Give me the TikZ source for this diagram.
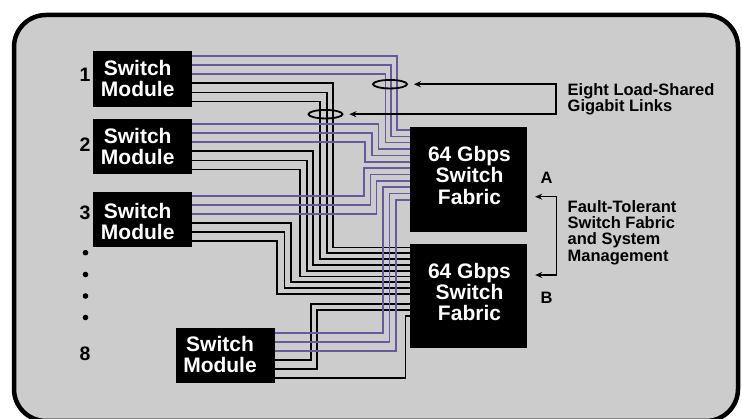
\documentclass[tikz,border=0pt]{standalone}
\usepackage{fontspec}
\setmainfont{Liberation Sans}
\usetikzlibrary{arrows.meta,shapes.geometric}
\definecolor{bg}{RGB}{204,204,204}
\definecolor{lav}{RGB}{104,88,156}
\begin{document}
\begin{tikzpicture}[x=1pt,y=-1pt,
  box/.style={fill=black, inner sep=0pt, draw=none},
  wtext/.style={text=white, font=\fontsize{21}{21}\selectfont\bfseries, align=center, inner sep=0pt},
  ftext/.style={text=white, font=\fontsize{21}{21.3}\selectfont\bfseries, align=center, inner sep=0pt},
  bl/.style={draw=black, line width=1.7pt},
  pl/.style={draw=lav, line width=1.6pt},
  lab/.style={font=\fontsize{16.5}{16.1}\selectfont\bfseries, align=left, inner sep=0pt, anchor=north west},
  num/.style={font=\fontsize{19.5}{19.5}\selectfont\bfseries, inner sep=0pt},
  small/.style={font=\fontsize{16.5}{16.5}\selectfont\bfseries, inner sep=0pt},
  arr/.style={line width=1.5pt, {Stealth[length=7pt,width=6pt]}-{Stealth[length=7pt,width=6pt]}},
  loop/.style={ellipse, draw=black, line width=1.8pt, minimum width=34pt, minimum height=8.5pt, inner sep=0pt},
  dot/.style={circle, fill=black, inner sep=0pt, minimum size=5.6pt}
]
\fill[white] (0,0) rectangle (742,419);
\useasboundingbox (0,0) rectangle (742,419);
\draw[line width=4.5pt, fill=bg, rounded corners=32pt] (14,15) rectangle (738,421);

% boxes
\node[box, minimum width=99pt, minimum height=56pt] (m1) at (142.5,79) {};
\node[box, minimum width=99pt, minimum height=55pt] (m2) at (142.5,146.5) {};
\node[box, minimum width=99pt, minimum height=55pt] (m3) at (142.5,219.8) {};
\node[box, minimum width=98.5pt, minimum height=55pt] (m4) at (225.3,355.5) {};
\node[box, minimum width=117pt, minimum height=105pt] (fa) at (468.5,179.5) {};
\node[box, minimum width=117pt, minimum height=104pt] (fb) at (468.5,296) {};

\node[wtext] (m1t) at (137.7,78.3) {Switch\\Module};
\node[wtext] (m2t) at (137.7,146.5) {Switch\\Module};
\node[wtext] (m3t) at (137.7,221.5) {Switch\\Module};
\node[wtext] (m4t) at (220,354.2) {Switch\\Module};
\node[ftext] (fat) at (469.5,175.4) {64 Gbps\\Switch\\Fabric};
\node[ftext] (fbt) at (469.5,292) {64 Gbps\\Switch\\Fabric};

% black links to fabric B
\foreach \s/\ys/\xv/\ye in {
  m1/83.3/333.3/247.5, m1/92.4/326.7/253.3, m1/101.5/320/259.1,
  m2/151.3/313.3/264.9, m2/160.4/306.7/270.7, m2/169.5/300/276.5,
  m3/222.8/291.3/282.3, m3/231.8/284.5/288.1, m3/240.8/277.3/293.9,
  m4/359.9/311/304.3, m4/369/316.7/310, m4/378.1/405.5/316}
  \draw[bl] (\s.east |- 0,\ys) -| (\xv,\ye) -- (fb.west |- 0,\ye);

% purple links to fabric A
\foreach \s/\ys/\xv/\ye in {
  m1/56/396.7/130, m1/65.1/391/136.4, m1/74.2/385.5/142.7,
  m2/124/378.3/149.1, m2/133.1/371.7/155.4, m2/142.2/365/161.8,
  m3/195.8/364/168.2, m3/204.8/370.5/174.5, m3/213.8/376.5/180.9,
  m4/332.8/382.8/187.2, m4/341.8/389.5/193.6, m4/350.8/396.2/200}
  \draw[pl] (\s.east |- 0,\ys) -| (\xv,\ye) -- (fa.west |- 0,\ye);

% bundle loops
\node[loop] (e1) at (390,84.2) {};
\node[loop] (e2) at (325.5,114.2) {};

% numbering
\node[num] (n1) at (85,75) {1};
\node[num] (n2) at (85,145) {2};
\node[num] (n3) at (85,213.3) {3};
\node[num] (n8) at (85,354) {8};
\node[dot] (d1) at (85.5,252.7) {};
\node[dot] (d2) at (85.5,274.5) {};
\node[dot] (d3) at (85.5,296) {};
\node[dot] (d4) at (85.5,317.5) {};

% labels A / B
\node[small] (la) at (546.7,178.3) {A};
\node[small] (lb) at (546.7,297.7) {B};

% right-hand texts
\node[lab] (t1) at (567.5,83.2) {Eight Load-Shared\\Gigabit Links};
\node[lab] (t2) at (567.5,200.6) {Fault-Tolerant\\Switch Fabric\\and System\\Management};

% brackets
\coordinate (k1) at (556,84.2);
\coordinate (k2) at (556,114.2);
\draw[arr] ([xshift=6pt]e1.east) -- (k1) -- (k2) -- ([xshift=6pt]e2.east);
\coordinate (k3) at (556.7,196.7);
\coordinate (k4) at (556.7,275);
\draw[arr] ([xshift=8pt]fa.east |- k3) -- (k3) -- (k4) -- ([xshift=8pt]fb.east |- k4);
\end{tikzpicture}
\end{document}
